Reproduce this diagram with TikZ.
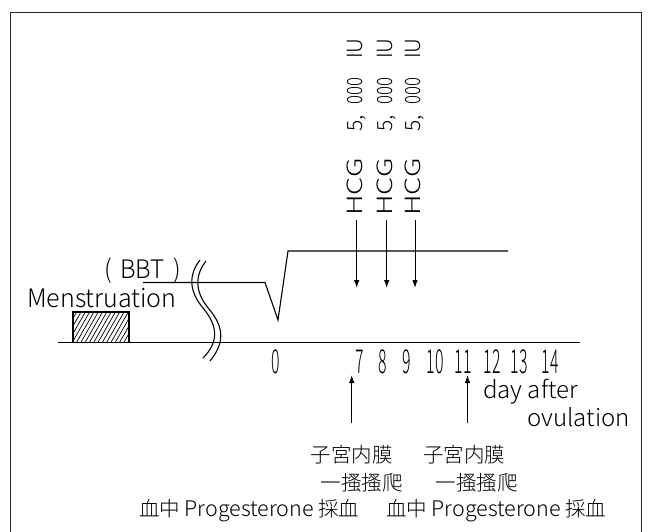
\documentclass[tikz,border=0pt]{standalone}
\usepackage{fontspec}
\IfFontExistsTF{Noto Sans CJK JP Light}{\setmainfont{Noto Sans CJK JP Light}}{\setmainfont{Noto Sans CJK JP}}
\usepackage{graphicx}
\usetikzlibrary{arrows.meta}
\newcommand{\sqz}[2]{\scalebox{#1}[1]{#2}}
\newcommand{\hcgtext}{\sqz{1.38}{HCG}\hspace{27pt}5,\hspace{10pt}\sqz{0.8}{000}\hspace{19pt}IU}
\begin{document}
\begin{tikzpicture}[x=1pt,y=-1pt,
  ln/.style={line width=1.1pt},
  hatch/.style={line width=0.7pt},
  arr/.style={-{Latex[length=8pt,width=5.5pt]}, line width=1pt},
  brk/.style={line width=1.1pt},
  frame/.style={line width=0.8pt, black!85},
  txt/.style={inner sep=0pt, font=\fontsize{25.5}{25.5}\selectfont},
  txs/.style={inner sep=0pt, font=\fontsize{24}{24}\selectfont},
  tick/.style={inner sep=0pt, anchor=base, font=\fontsize{33}{33}\selectfont},
  hcg/.style={inner sep=0pt, rotate=90, anchor=west, font=\fontsize{21}{21}\selectfont},
  jp/.style={inner sep=0pt, anchor=base, font=\fontsize{20.5}{20.5}\selectfont},
  pg/.style={inner sep=0pt, anchor=base west, font=\fontsize{20.5}{20.5}\selectfont}]
\useasboundingbox (0,0) rectangle (651,532);
% frame
\draw[frame] (10,532) -- (10,12) -- (641,12) -- (641,532);
% menstruation box (hatched)
\begin{scope}
  \clip (73,342.5) rectangle (129,312);
  \foreach \i in {0,...,17} {
    \draw[hatch] ({55+4.3*\i},342.5) -- ++(18,-31.5);
  }
\end{scope}
\draw[ln] (73,342.5) rectangle (129,312);
% baseline
\coordinate (bl0) at (58,342.5);
\coordinate (bl1) at (580,342.5);
\draw[ln] (bl0) -- (bl1);
% BBT curve
\draw[ln] (143,282.5) -- (265,282.5) -- (278,320) -- (288,251) -- (508,251);
% break marks
\draw[brk] (200,260) .. controls (186,278) and (192,295) .. (203,308)
  .. controls (219,327) and (218,343) .. (203,358);
\draw[brk] (206,261) .. controls (192,279) and (198,296) .. (209,309)
  .. controls (225,328) and (224,344) .. (210,361);
% labels
\node[txt, anchor=base west] (men) at (27,307) {\sqz{0.98}{Menstruation}};
\node[txt, anchor=base west] (bbt) at (104,278) {\sqz{0.95}{(\hspace{0.35em}BBT\hspace{0.35em})}};
% ticks
\node[tick] (d0) at (276,373) {\sqz{0.48}{0}};
\node[tick] (d7) at (360,373) {\sqz{0.48}{7}};
\node[tick] (d8) at (383,373) {\sqz{0.48}{8}};
\node[tick] (d9) at (407,373) {\sqz{0.48}{9}};
\node[tick] (d10) at (435,373) {\sqz{0.48}{10}};
\node[tick] (d11) at (463,373) {\sqz{0.48}{11}};
\node[tick] (d12) at (492,373) {\sqz{0.48}{12}};
\node[tick] (d13) at (519,373) {\sqz{0.48}{13}};
\node[tick] (d14) at (550,373) {\sqz{0.48}{14}};
\node[txs, anchor=base west] (day) at (483,398) {day after};
\node[txs, anchor=base west] (ovu) at (527,426.5) {ovulation};
% HCG
\node[hcg] (h7) at (356.7,216) {\hcgtext};
\node[hcg] (h8) at (386.7,216) {\hcgtext};
\node[hcg] (h9) at (415,216) {\hcgtext};
\coordinate (h7e) at (356.7,288);
\coordinate (h8e) at (386.7,288);
\coordinate (h9e) at (415,288);
\draw[arr, shorten <=4pt] (h7.west) -- (h7e);
\draw[arr, shorten <=4pt] (h8.west) -- (h8e);
\draw[arr, shorten <=4pt] (h9.west) -- (h9e);
% up arrows
\coordinate (u7s) at (351.7,423);
\coordinate (u7e) at (351.7,375);
\coordinate (u11s) at (467.5,423);
\coordinate (u11e) at (467.5,375);
\draw[arr] (u7s) -- (u7e);
\draw[arr] (u11s) -- (u11e);
% Japanese labels
\node[jp] (e7) at (351.7,462) {子宮内膜};
\node[jp] (e11) at (464,462) {子宮内膜};
\node[jp] (s7) at (361.7,490.5) {一搔搔爬};
\node[jp] (s11) at (476.7,490.5) {一搔搔爬};
\node[pg] (p7) at (139,516) {血中 {\fontsize{21.5}{21.5}\selectfont Progesterone} 採血};
\node[pg] (p11) at (386,516) {血中 {\fontsize{21.5}{21.5}\selectfont Progesterone} 採血};
\end{tikzpicture}
\end{document}
